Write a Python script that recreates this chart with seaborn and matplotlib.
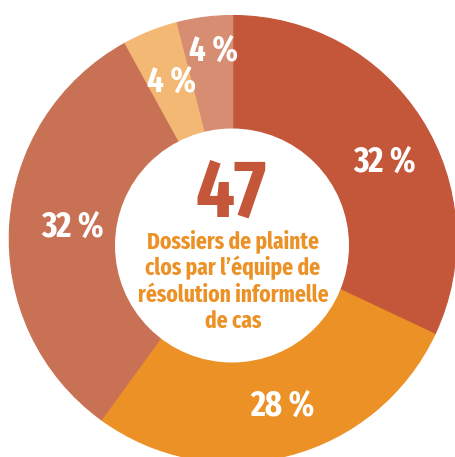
import os
import matplotlib
matplotlib.use("Agg")
import matplotlib.pyplot as plt
from matplotlib import font_manager
from matplotlib.font_manager import FontProperties
from matplotlib.patches import Circle
import seaborn as sns

# Shares of closed complaint files (percent), clockwise from 12 o'clock
shares = [32, 28, 32, 4, 4]
slice_colors = ["#C4563A", "#EC9126", "#C97154", "#F3B874", "#D78D72"]
total_files = 47
caption_lines = [
    "Dossiers de plainte",
    "clos par l’équipe de",
    "résolution informelle",
    "de cas",
]

sns.set_theme(style="white")
plt.rcParams["font.family"] = ["DejaVu Sans"]


def weight_num(w):
    return w if isinstance(w, int) else font_manager.weight_dict.get(w, 400)


def narrowness(entry):
    base = os.path.basename(entry.fname).replace(" ", "")
    if "ExtraCondensed" in base or "ExtraCond" in base:
        return 0
    if "SemiCondensed" in base or "SemiCond" in base:
        return 2
    return 1


# pick a bold condensed face for the headline-style lettering
faces = [
    f for f in font_manager.fontManager.ttflist
    if f.style == "normal"
    and weight_num(f.weight) in (600, 700, 800)
    and (f.stretch != "normal" or "Narrow" in f.name
         or "Condensed" in f.name or "Condensed" in f.fname)
]
faces.sort(key=lambda f: (narrowness(f), abs(weight_num(f.weight) - 700)))
if faces:
    face = FontProperties(fname=faces[0].fname)
else:
    face = FontProperties(family="DejaVu Sans", weight="bold",
                          stretch="condensed")

W, H = 455, 457
fig = plt.figure(figsize=(W / 100, H / 100), dpi=100)
fig.patch.set_facecolor("white")
ax = fig.add_axes([0, 0, 1, 1])

outer_center = (232.75, H - 239.0)
outer_radius = 223.5
inner_center = (232.0, H - 245.5)
inner_radius = 117.0

wedges, _ = ax.pie(
    shares,
    colors=slice_colors,
    startangle=90,
    counterclock=False,
    center=outer_center,
    radius=outer_radius,
)
for w in wedges:
    w.set_edgecolor(w.get_facecolor())
    w.set_linewidth(0.8)

ax.add_patch(Circle(inner_center, inner_radius, facecolor="white",
                    edgecolor="none", zorder=3))

ax.set_xlim(0, W)
ax.set_ylim(0, H)
ax.set_aspect("equal")
ax.axis("off")

# percentage labels on the ring (x, baseline y measured from the top)
label_spots = [(385, 172), (283, 416), (73, 237), (172, 92), (214, 61)]
for share, (lx, ly) in zip(shares, label_spots):
    ax.text(lx, H - ly, f"{share} %", ha="center", va="baseline",
            color="white", fontproperties=face, fontsize=25.5, zorder=4)

ax.text(231, H - 217, str(total_files), ha="center", va="baseline",
        color="#C4563A", fontproperties=face, fontsize=59, zorder=4)

for i, line in enumerate(caption_lines):
    ax.text(233, H - (248.3 + 26.7 * i), line, ha="center", va="baseline",
            color="#EC9126", fontproperties=face, fontsize=16.8, zorder=4)

fig.savefig("out.png", dpi=100, facecolor="white")
